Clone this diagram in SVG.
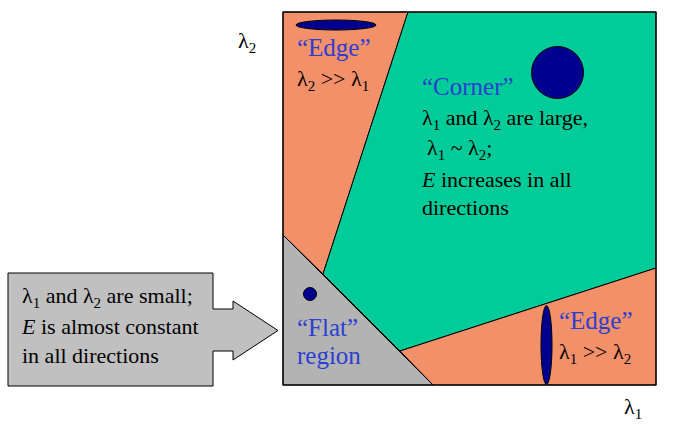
<svg xmlns="http://www.w3.org/2000/svg" width="692" height="424" viewBox="0 0 692 424" font-family="Liberation Serif, Times New Roman, DejaVu Serif, serif">
<style>
.t{font-size:22px;fill:#000}
.b{font-size:25px;fill:#2C3FD0}
.s{font-size:15px}
.reg{stroke:#000;stroke-width:1;stroke-linejoin:miter}
.dot{fill:#00008F;stroke:#000;stroke-width:1}
</style>
<rect width="692" height="424" fill="#fff"/>
<g id="regions">
  <polygon id="edge-top" class="reg" fill="#F2906A" points="283,12 408,12 323,274 283,235"/>
  <polygon id="corner" class="reg" fill="#00CC99" points="408,12 656,12 656,268 400,351 323,274"/>
  <polygon id="edge-right" class="reg" fill="#F2906A" points="400,351 656,268 656,385 433,385"/>
  <polygon id="flat" class="reg" fill="#B3B3B3" points="283,235 433,385 283,385"/>
  <rect x="283" y="12" width="373" height="373" fill="none" stroke="#000" stroke-width="1.2"/>
</g>
<g id="node-edge-top">
  <ellipse class="dot" cx="336" cy="25" rx="40" ry="5"/>
  <text class="b" font-family="Liberation Serif, serif" x="297" y="56">“Edge”</text>
  <text class="t" font-family="Liberation Serif, serif" x="297" y="86">λ<tspan class="s" dy="5">2</tspan><tspan dy="-5"> &gt;&gt; λ</tspan><tspan class="s" dy="5">1</tspan></text>
</g>
<g id="node-corner">
  <circle class="dot" cx="557.5" cy="72.5" r="26"/>
  <text class="b" font-family="Liberation Serif, serif" x="422" y="95">“Corner”</text>
  <text class="t" font-family="Liberation Serif, serif" x="422" y="125">λ<tspan class="s" dy="5">1</tspan><tspan dy="-5"> and λ</tspan><tspan class="s" dy="5">2</tspan><tspan dy="-5"> are large,</tspan></text>
  <text class="t" font-family="Liberation Serif, serif" x="427" y="155">λ<tspan class="s" dy="5">1</tspan><tspan dy="-5"> ~ λ</tspan><tspan class="s" dy="5">2</tspan><tspan dy="-5">;</tspan></text>
  <text class="t" font-family="Liberation Serif, serif" x="422" y="187"><tspan font-style="italic">E</tspan> increases in all</text>
  <text class="t" font-family="Liberation Serif, serif" x="422" y="215">directions</text>
</g>
<g id="node-flat">
  <circle class="dot" cx="310" cy="294" r="6.5"/>
  <text class="b" font-family="Liberation Serif, serif" x="297" y="336">“Flat”</text>
  <text class="b" font-family="Liberation Serif, serif" x="297" y="364">region</text>
</g>
<g id="node-edge-right">
  <ellipse class="dot" cx="546.5" cy="345" rx="5.5" ry="39.5"/>
  <text class="b" font-family="Liberation Serif, serif" x="559" y="329">“Edge”</text>
  <text class="t" font-family="Liberation Serif, serif" x="559" y="359">λ<tspan class="s" dy="5">1</tspan><tspan dy="-5"> &gt;&gt; λ</tspan><tspan class="s" dy="5">2</tspan></text>
</g>
<g id="node-callout">
  <polygon fill="#C0C0C0" stroke="#000" stroke-width="1" points="8,273 213,273 213,309 233,309 233,301 278,330.5 233,360 233,351 213,351 213,386 8,386"/>
  <text class="t" font-family="Liberation Serif, serif" x="22" y="303">λ<tspan class="s" dy="5">1</tspan><tspan dy="-5"> and λ</tspan><tspan class="s" dy="5">2</tspan><tspan dy="-5"> are small;</tspan></text>
  <text class="t" font-family="Liberation Serif, serif" x="22" y="334"><tspan font-style="italic">E</tspan> is almost constant</text>
  <text class="t" font-family="Liberation Serif, serif" x="22" y="363">in all directions</text>
</g>
<g id="axes">
  <text class="t" font-family="Liberation Serif, serif" x="238" y="48">λ<tspan class="s" dy="5">2</tspan></text>
  <text class="t" font-family="Liberation Serif, serif" x="624" y="414">λ<tspan class="s" dy="5">1</tspan></text>
</g>
<g id="connectors"></g>
</svg>
